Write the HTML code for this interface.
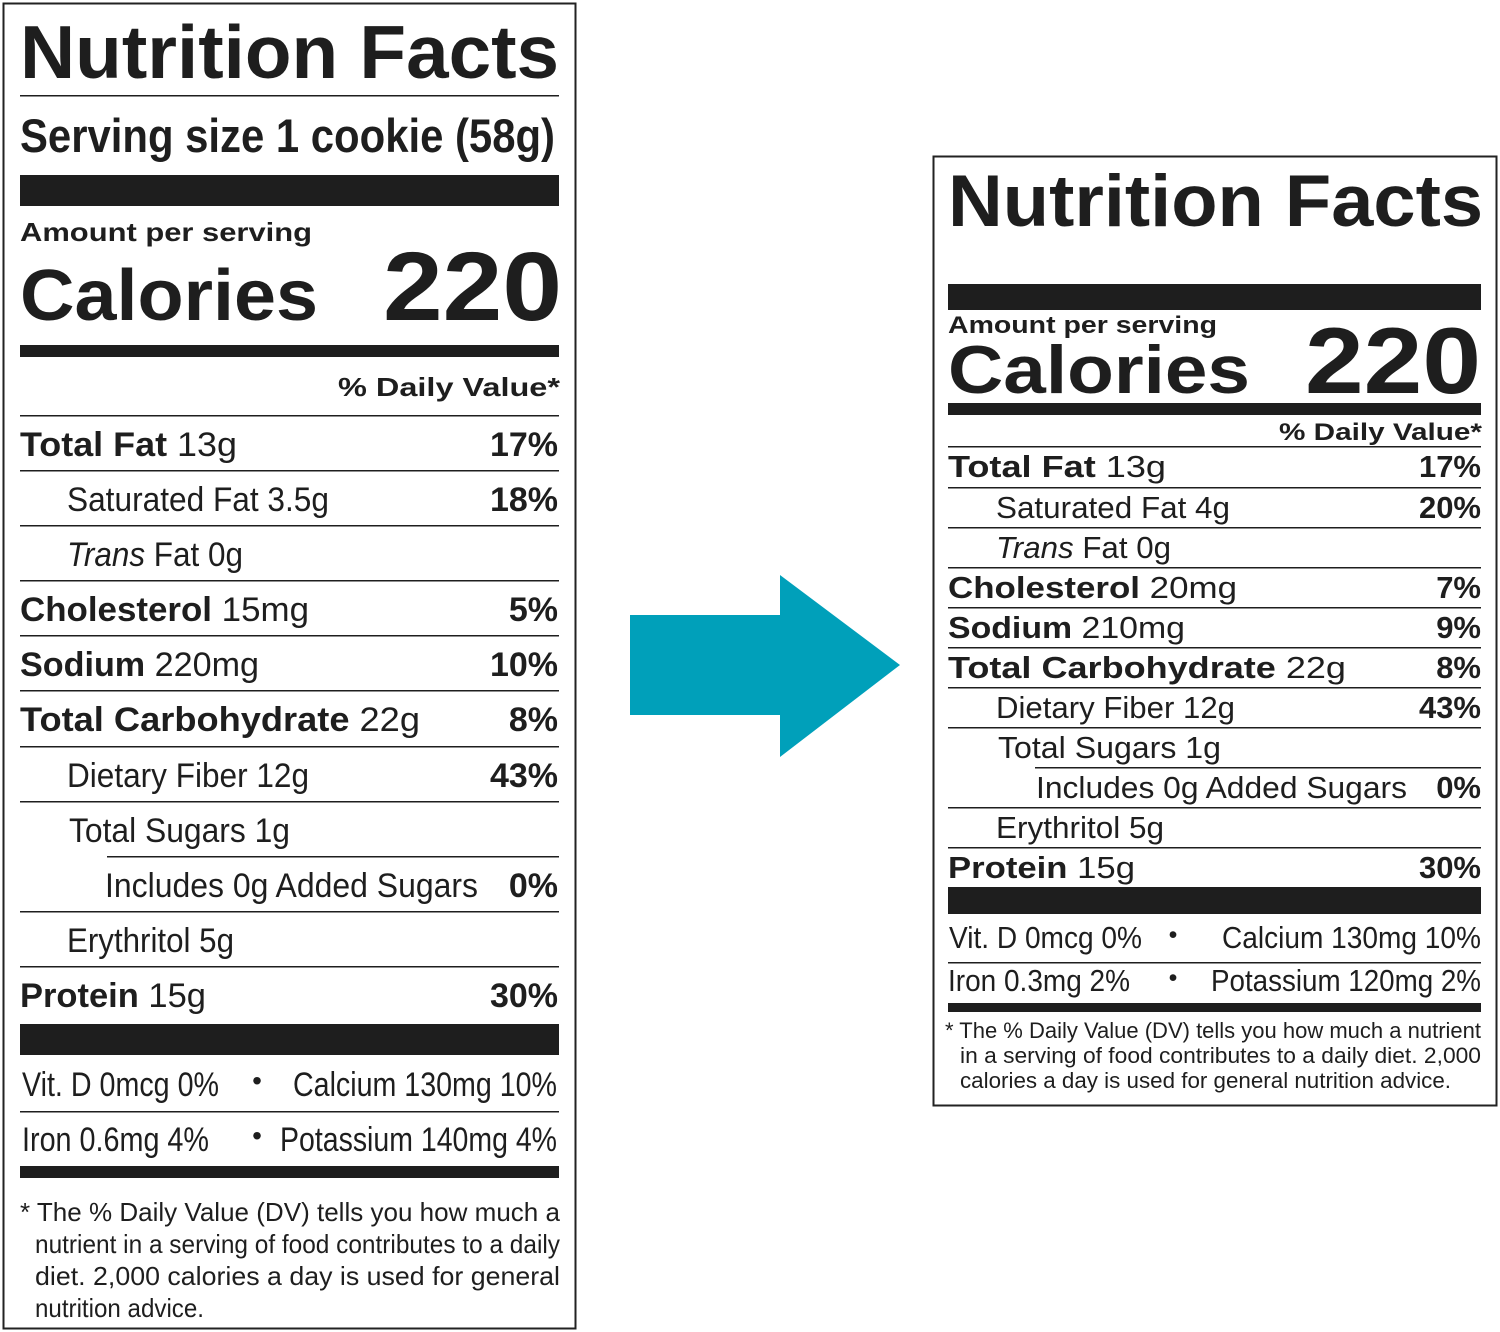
<!DOCTYPE html>
<html><head><meta charset="utf-8"><style>
html,body{margin:0;padding:0;background:#fff;}
svg{display:block;font-family:"Liberation Sans",sans-serif;}
</style></head><body>
<svg id="s" width="1500" height="1332" viewBox="0 0 1500 1332" xmlns="http://www.w3.org/2000/svg">
<rect x="3.5" y="3.5" width="572" height="1325" fill="none" stroke="#222" stroke-width="2"/>
<rect x="933.5" y="156.5" width="563" height="949" fill="none" stroke="#222" stroke-width="2"/>
<polygon points="630,615 780,615 780,575 900,665 780,757 780,715 630,715" fill="#00a0ba"/>
</svg>
<script>
var svg=document.getElementById('s');
var NS='http://www.w3.org/2000/svg';
function R(x,y,w,h,name){var r=document.createElementNS(NS,'rect');r.setAttribute('x',x);r.setAttribute('y',y);r.setAttribute('width',w);r.setAttribute('height',h);r.setAttribute('fill','#1e1e1e');


svg.appendChild(r);}
// parts: [text,bold,italic]
function T(x,y,size,w,parts,name,anchor){var t=document.createElementNS(NS,'text');t.setAttribute('x',x);t.setAttribute('y',y);t.setAttribute('font-size',size);t.setAttribute('fill','#1e1e1e');
if(w){t.setAttribute('textLength',w);t.setAttribute('lengthAdjust','spacingAndGlyphs');}
if(anchor)t.setAttribute('text-anchor',anchor);
parts.forEach(function(p){var s=document.createElementNS(NS,'tspan');s.textContent=p[0];if(p[1])s.setAttribute('font-weight','bold');if(p[2])s.setAttribute('font-style','italic');t.appendChild(s);});


svg.appendChild(t);}

// ---------- OLD LABEL ----------
T(20,78,75,539,[['Nutrition Facts',1]],'old-title');
R(20,95,539,1.5,'old-rule');
T(20,152,47,535,[['Serving size 1 cookie (58g)',1]],'old-serving-size');
R(20,175,539,31,'old-thick-bar');
T(20,241,26,292,[['Amount per serving',1]],'old-amount-per-serving');
T(20,320,72,298,[['Calories',1]],'old-calories-label');
T(383,320,97,179,[['220',1]],'old-calories-value');
R(20,345,539,12,'old-medium-bar');
T(338,396,26,222,[['% Daily Value*',1]],'old-daily-value-header');
var oldRows=[
 [415,20,237,[['Total Fat',1],[' 13g']],'17%',0],
 [470,67,329,[['Saturated Fat 3.5g']],'18%',0],
 [525,67,243,[['Trans',0,1],[' Fat 0g']],'',20],
 [580,20,309,[['Cholesterol',1],[' 15mg']],'5%',20],
 [635,20,259,[['Sodium',1],[' 220mg']],'10%',20],
 [690,20,420,[['Total Carbohydrate',1],[' 22g']],'8%',20],
 [746,67,309,[['Dietary Fiber 12g']],'43%',20],
 [801,69,290,[['Total Sugars 1g']],'',20],
 [856,105,478,[['Includes 0g Added Sugars']],'0%',107],
 [911,67,234,[['Erythritol 5g']],'',20],
 [966,20,206,[['Protein',1],[' 15g']],'30%',20]];
oldRows.forEach(function(r,i){
 R(r[5]||20,r[0],559-(r[5]||20),1.5,'old-row-rule');
 T(r[1],r[0]+41,34,r[2]-r[1],r[3],'old-row-'+i);
 if(r[4])T(558,r[0]+41,34,0,[[r[4],1]],'old-row-dv-'+i,'end');
});
R(20,1024,539,31,'old-thick-bar-2');
T(22,1096,34,197,[['Vit. D 0mcg 0%']],'old-vitd');
T(257,1090,28,0,[['•']],'old-bullet','middle');
T(293,1096,34,264,[['Calcium 130mg 10%']],'old-calcium');
R(20,1111,539,1.5,'old-rule-2');
T(22,1151,34,187,[['Iron 0.6mg 4%']],'old-iron');
T(257,1145,28,0,[['•']],'old-bullet-2','middle');
T(280,1151,34,277,[['Potassium 140mg 4%']],'old-potassium');
R(20,1166,539,12,'old-medium-bar-2');
T(20,1221,26,540,[['* The % Daily Value (DV) tells you how much a']],'old-footnote-1');
T(35,1253,26,525,[['nutrient in a serving of food contributes to a daily']],'old-footnote-2');
T(35,1285,26,525,[['diet. 2,000 calories a day is used for general']],'old-footnote-3');
T(35,1317,26,169,[['nutrition advice.']],'old-footnote-4');

// ---------- NEW LABEL ----------
T(948,226,73,535,[['Nutrition Facts',1]],'new-title');
R(948,284,533,26,'new-thick-bar');
T(948,333,24,269,[['Amount per serving',1]],'new-amount-per-serving');
T(948,393,68,302,[['Calories',1]],'new-calories-label');
T(1305,393,94,176,[['220',1]],'new-calories-value');
R(948,403,533,12,'new-medium-bar');
T(1279,440,24,203,[['% Daily Value*',1]],'new-daily-value-header');
var newRows=[
 [446,948,1166,[['Total Fat',1],[' 13g']],'17%',948],
 [487,996,1230,[['Saturated Fat 4g']],'20%',948],
 [527,996,1171,[['Trans',0,1],[' Fat 0g']],'',948],
 [567,948,1237,[['Cholesterol',1],[' 20mg']],'7%',948],
 [607,948,1185,[['Sodium',1],[' 210mg']],'9%',948],
 [647,948,1346,[['Total Carbohydrate',1],[' 22g']],'8%',948],
 [687,996,1235,[['Dietary Fiber 12g']],'43%',948],
 [727,998,1221,[['Total Sugars 1g']],'',948],
 [767,1036,1407,[['Includes 0g Added Sugars']],'0%',1035],
 [807,996,1164,[['Erythritol 5g']],'',948],
 [847,948,1135,[['Protein',1],[' 15g']],'30%',948]];
newRows.forEach(function(r,i){
 R(r[5],r[0],1481-r[5],1.5,'new-row-rule');
 T(r[1],r[0]+31,31,r[2]-r[1],r[3],'new-row-'+i);
 if(r[4])T(1481,r[0]+31,31,0,[[r[4],1]],'new-row-dv-'+i,'end');
});
R(948,887,533,27,'new-thick-bar-2');
T(949,948,31,193,[['Vit. D 0mcg 0%']],'new-vitd');
T(1173,943,25,0,[['•']],'new-bullet','middle');
T(1222,948,31,259,[['Calcium 130mg 10%']],'new-calcium');
R(948,962,533,1.5,'new-rule-2');
T(948,991,31,182,[['Iron 0.3mg 2%']],'new-iron');
T(1173,986,25,0,[['•']],'new-bullet-2','middle');
T(1211,991,31,270,[['Potassium 120mg 2%']],'new-potassium');
R(948,1003,533,9,'new-medium-bar-2');
T(945,1038,22,536,[['* The % Daily Value (DV) tells you how much a nutrient']],'new-footnote-1');
T(960,1063,22,521,[['in a serving of food contributes to a daily diet. 2,000']],'new-footnote-2');
T(960,1088,22,491,[['calories a day is used for general nutrition advice.']],'new-footnote-3');
</script>
</body></html>
